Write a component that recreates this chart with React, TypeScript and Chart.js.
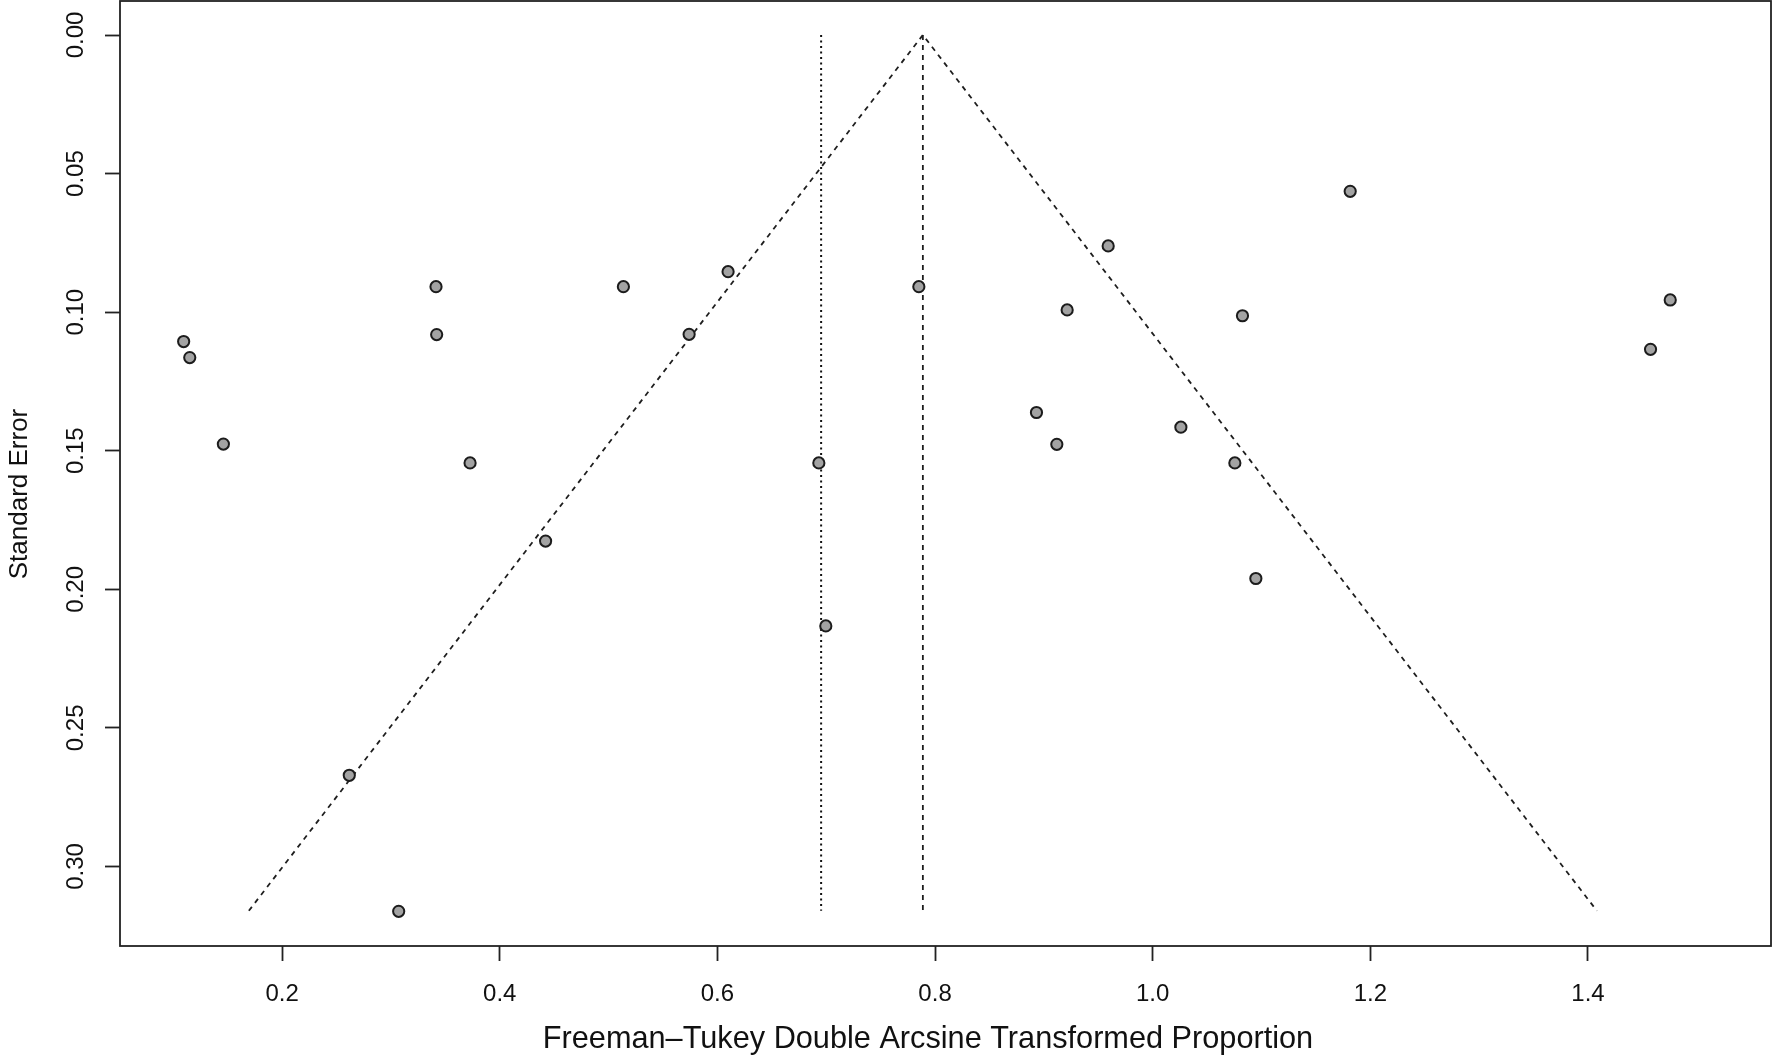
import React, { useEffect, useRef } from "react";
import { Chart, registerables } from "chart.js";

Chart.register(...registerables);

// Study effects (Freeman–Tukey double arcsine transformed proportion)
const studyEffects = [
  0.1095, 0.1151, 0.146, 0.2617, 0.3071, 0.3414, 0.342, 0.3727, 0.4421, 0.5136,
  0.574, 0.6098, 0.6932, 0.6996, 0.7851, 0.8932, 0.9119, 0.9214, 0.9591, 1.0259,
  1.0755, 1.0825, 1.0948, 1.1815, 1.4575, 1.4756,
];
// Standard errors
const studySE = [
  0.1106, 0.1164, 0.1476, 0.2671, 0.3162, 0.0908, 0.1081, 0.1544, 0.1826, 0.0908,
  0.108, 0.0854, 0.1544, 0.2132, 0.0908, 0.1362, 0.1477, 0.0992, 0.0761, 0.1415,
  0.1544, 0.1013, 0.1961, 0.0564, 0.1134, 0.0956,
];

// Funnel (pseudo 95% CI) outline
const funnelX = [0.1694, 0.7888, 1.4082];
const funnelY = [0.316, 0.0, 0.316];
// Pooled estimate (dashed vertical) and alternative estimate (dotted vertical)
const pooledX = [0.7888, 0.7888];
const pooledY = [0.0, 0.316];
const altX = [0.6953, 0.6953];
const altY = [0.0, 0.316];

// Axis ranges and ticks
const xRange = [0.051, 1.5682];
const yRange = [-0.01227, 0.3287];
const xStep = 0.2;
const yStep = 0.05;

const xTitle = "Freeman\u2013Tukey Double Arcsine Transformed Proportion";
const yTitle = "Standard Error";

const FONT = "'Liberation Sans', Arial, Helvetica, sans-serif";

export default function App() {
  const ref = useRef<HTMLCanvasElement | null>(null);

  useEffect(() => {
    document.body.style.margin = "0";
    document.body.style.overflow = "hidden";
    const canvas = ref.current;
    if (!canvas) return;

    const pts = studyEffects.map((x, i) => ({ x, y: studySE[i] }));
    const funnel = funnelX.map((x, i) => ({ x, y: funnelY[i] }));
    const pooled = pooledX.map((x, i) => ({ x, y: pooledY[i] }));
    const alt = altX.map((x, i) => ({ x, y: altY[i] }));

    const framePlugin = {
      id: "frame",
      afterDraw(chart: any) {
        const ctx = chart.ctx as CanvasRenderingContext2D;
        const a = chart.chartArea;
        const ys = chart.scales.y;
        ctx.save();
        ctx.strokeStyle = "#222";
        ctx.lineWidth = 1.8;
        ctx.strokeRect(a.left, a.top, a.right - a.left, a.bottom - a.top);

        ctx.fillStyle = "#111";
        ctx.font = `24px ${FONT}`;
        ctx.textAlign = "center";
        ctx.textBaseline = "alphabetic";
        for (const t of ys.ticks) {
          const py = ys.getPixelForValue(t.value);
          ctx.save();
          ctx.translate(83, py);
          ctx.rotate(-Math.PI / 2);
          ctx.fillText(Number(t.value).toFixed(2), 0, 0);
          ctx.restore();
        }

        ctx.font = `26px ${FONT}`;
        ctx.save();
        ctx.translate(27, 494);
        ctx.rotate(-Math.PI / 2);
        ctx.fillText(yTitle, 0, 0);
        ctx.restore();

        ctx.font = `30.7px ${FONT}`;
        ctx.fillText(xTitle, 928, 1048);
        ctx.restore();
      },
    };

    const chart = new Chart(canvas, {
      type: "scatter",
      data: {
        datasets: [
          {
            label: "funnel",
            data: funnel,
            showLine: true,
            borderColor: "#1e1e1e",
            borderWidth: 1.8,
            borderDash: [5, 5],
            pointRadius: 0,
            fill: false,
            order: 3,
          },
          {
            label: "pooled",
            data: pooled,
            showLine: true,
            borderColor: "#1e1e1e",
            borderWidth: 1.8,
            borderDash: [5, 5],
            pointRadius: 0,
            fill: false,
            order: 3,
          },
          {
            label: "alt",
            data: alt,
            showLine: true,
            borderColor: "#111",
            borderWidth: 2,
            borderDash: [2, 3.5],
            pointRadius: 0,
            fill: false,
            order: 3,
          },
          {
            label: "studies",
            data: pts,
            showLine: false,
            backgroundColor: "#a3a3a3",
            borderColor: "#1c1c1c",
            borderWidth: 2,
            pointRadius: 5.6,
            order: 1,
          },
        ],
      },
      options: {
        responsive: false,
        animation: false,
        devicePixelRatio: 1,
        layout: { autoPadding: false, padding: { left: 0, top: 1, right: 1, bottom: 0 } },
        plugins: {
          legend: { display: false },
          tooltip: { enabled: false },
        },
        scales: {
          x: {
            type: "linear",
            min: xRange[0],
            max: xRange[1],
            afterFit(scale: any) {
              scale.height = 109;
              scale.paddingLeft = 0;
              scale.paddingRight = 0;
            },
            ticks: {
              stepSize: xStep,
              includeBounds: false,
              padding: 19,
              color: "#111",
              font: { family: FONT, size: 24 },
              callback: (v: any) => Number(v).toFixed(1),
              maxRotation: 0,
              minRotation: 0,
            },
            grid: {
              display: true,
              drawOnChartArea: false,
              drawTicks: true,
              tickLength: 15,
              tickColor: "#222",
              tickWidth: 1.8,
            },
            border: { display: false },
          },
          y: {
            type: "linear",
            reverse: true,
            min: yRange[0],
            max: yRange[1],
            afterFit(scale: any) {
              scale.width = 120;
              scale.paddingTop = 0;
              scale.paddingBottom = 0;
            },
            ticks: {
              stepSize: yStep,
              includeBounds: false,
              callback: () => "",
              padding: 0,
              font: { size: 1 },
            },
            grid: {
              display: true,
              drawOnChartArea: false,
              drawTicks: true,
              tickLength: 15,
              tickColor: "#222",
              tickWidth: 1.8,
            },
            border: { display: false },
          },
        },
      },
      plugins: [framePlugin],
    } as any);

    return () => chart.destroy();
  }, []);

  return (
    <div style={{ position: "absolute", left: 0, top: 0, width: 1772, height: 1055, background: "#fff" }}>
      <canvas ref={ref} width={1772} height={1055} style={{ display: "block" }} />
    </div>
  );
}
